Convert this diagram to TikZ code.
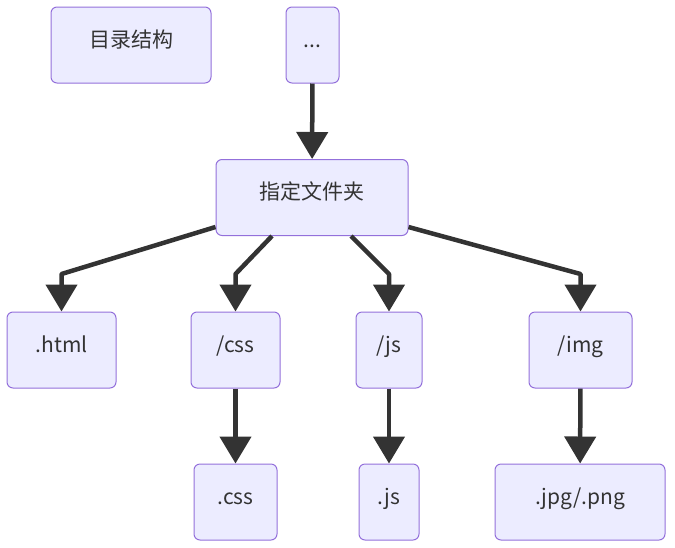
\documentclass[tikz,border=0pt]{standalone}
\usepackage{fontspec}
\setmainfont{Noto Sans CJK SC}
\usetikzlibrary{arrows.meta, positioning}
\definecolor{boxfill}{HTML}{ECECFF}
\definecolor{boxline}{HTML}{9370DB}
\definecolor{edgegray}{HTML}{333333}

\begin{document}
\begin{tikzpicture}[x=1pt, y=-1pt, line join=round,
    box/.style={draw=boxline, fill=boxfill, line width=1pt, rounded corners=6pt,
      minimum height=76pt, inner sep=0pt, text=edgegray,
      text height=15pt, text depth=11pt,
      font=\fontsize{21}{25}\selectfont},
    edge/.style={draw=edgegray, line width=4.5pt,
      -{Triangle[length=27pt, width=31pt]}}]
      \useasboundingbox (0,0) rectangle (675,547);
      \node[box, minimum width=160pt] (mulu) at (131,45) {目录结构};
      \node[box, minimum width=53pt] (dots) at (312.5,45) {...};
      \node[box, minimum width=192pt] (zhiding) at (312,197.5) {指定文件夹};
      \node[box, minimum width=109pt] (html) at (61.5,350) {.html};
      \node[box, minimum width=89pt] (css) at (235.5,350) {/css};
      \node[box, minimum width=66pt] (js) at (389,350) {/js};
      \node[box, minimum width=103pt] (img) at (580.5,350) {/img};
      \node[box, minimum width=83pt] (cssfile) at (235.5,502) {.css};
      \node[box, minimum width=60pt] (jsfile) at (389,502) {.js};
      \node[box, minimum width=170pt] (imgfile) at (580,502) {.jpg/.png};
      % connectors
      \draw[edge] (dots) -- (zhiding);
      \draw[edge] ([yshift=9pt]zhiding.south west) -- (html.north |- 0,274) -- (html.north);
      \draw[edge] ([xshift=-40pt]zhiding.south) -- (css.north |- 0,274) -- (css.north);
      \draw[edge] ([xshift=39pt]zhiding.south) -- (js.north |- 0,274) -- (js.north);
      \draw[edge] ([yshift=9pt]zhiding.south east) -- (img.north |- 0,274) -- (img.north);
      \draw[edge] (css) -- (cssfile);
      \draw[edge] (js) -- (jsfile);
      \draw[edge] (img) -- (imgfile);
    \end{tikzpicture}
\end{document}
